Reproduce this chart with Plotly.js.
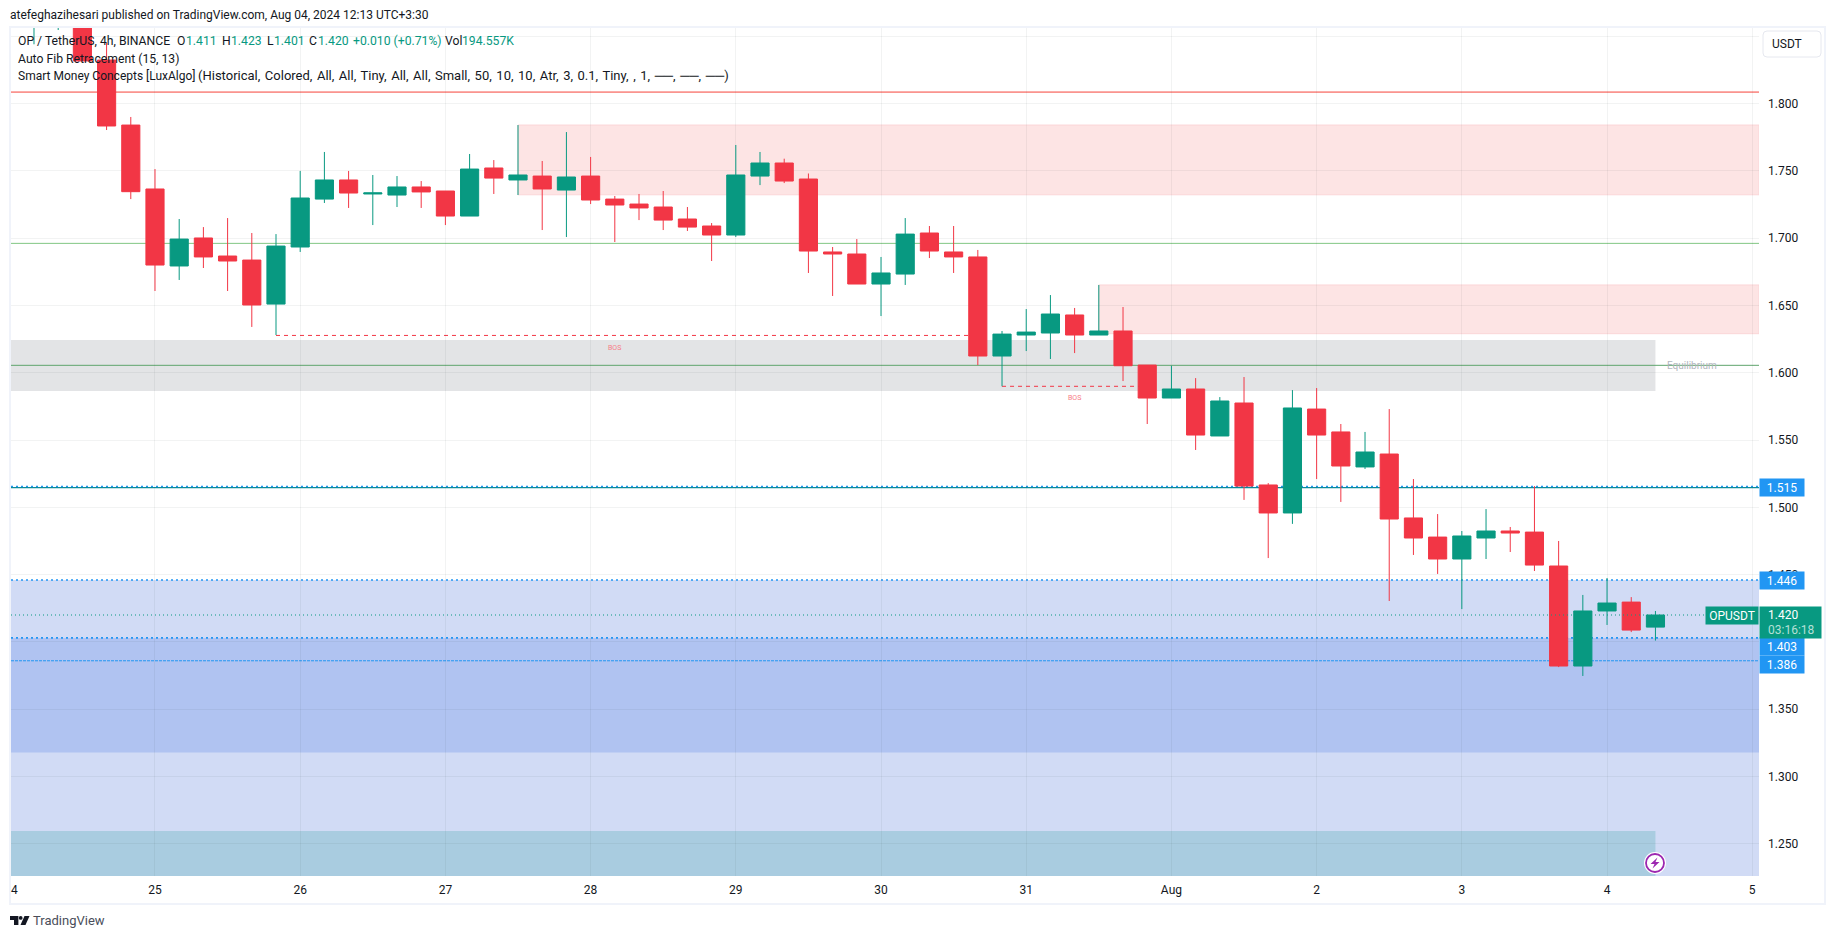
<!DOCTYPE html>
<html><head><meta charset="utf-8">
<script src="https://cdn.plot.ly/plotly-3.0.1.min.js"></script>
<style>html,body{margin:0;padding:0;background:#fff}#c{width:1835px;height:939px}</style>
</head><body><div id="c"></div>
<script>
// ---- candle data (4h) ----
const dates = ["2024-07-24 00:00","2024-07-24 04:00","2024-07-24 08:00","2024-07-24 12:00","2024-07-24 16:00","2024-07-24 20:00",
"2024-07-25 00:00","2024-07-25 04:00","2024-07-25 08:00","2024-07-25 12:00","2024-07-25 16:00","2024-07-25 20:00",
"2024-07-26 00:00","2024-07-26 04:00","2024-07-26 08:00","2024-07-26 12:00","2024-07-26 16:00","2024-07-26 20:00",
"2024-07-27 00:00","2024-07-27 04:00","2024-07-27 08:00","2024-07-27 12:00","2024-07-27 16:00","2024-07-27 20:00",
"2024-07-28 00:00","2024-07-28 04:00","2024-07-28 08:00","2024-07-28 12:00","2024-07-28 16:00","2024-07-28 20:00",
"2024-07-29 00:00","2024-07-29 04:00","2024-07-29 08:00","2024-07-29 12:00","2024-07-29 16:00","2024-07-29 20:00",
"2024-07-30 00:00","2024-07-30 04:00","2024-07-30 08:00","2024-07-30 12:00","2024-07-30 16:00","2024-07-30 20:00",
"2024-07-31 00:00","2024-07-31 04:00","2024-07-31 08:00","2024-07-31 12:00","2024-07-31 16:00","2024-07-31 20:00",
"2024-08-01 00:00","2024-08-01 04:00","2024-08-01 08:00","2024-08-01 12:00","2024-08-01 16:00","2024-08-01 20:00",
"2024-08-02 00:00","2024-08-02 04:00","2024-08-02 08:00","2024-08-02 12:00","2024-08-02 16:00","2024-08-02 20:00",
"2024-08-03 00:00","2024-08-03 04:00","2024-08-03 08:00","2024-08-03 12:00","2024-08-03 16:00","2024-08-03 20:00",
"2024-08-04 00:00","2024-08-04 04:00","2024-08-04 08:00"];
const opens = [1.95,1.875,1.88,1.885,1.8323,1.784,
1.7365,1.6793,1.7001,1.6867,1.6837,1.651,
1.6934,1.729,1.7432,1.7328,1.732,1.738,
1.735,1.7164,1.7521,1.7432,1.7461,1.7357,
1.7461,1.729,1.7253,1.7231,1.7142,1.709,
1.7023,1.7461,1.7558,1.7439,1.6897,1.6882,
1.6659,1.6733,1.7038,1.6897,1.686,1.6124,
1.628,1.6295,1.6429,1.628,1.631,1.6057,
1.5812,1.5879,1.553,1.5775,1.5166,1.4958,
1.573,1.556,1.53,1.5396,1.4921,1.4779,
1.4616,1.4772,1.4824,1.4816,1.4564,1.3821,
1.423,1.4296,1.411];
const highs = [1.96,1.94,1.92,1.9,1.845,1.79,
1.7513,1.7142,1.7082,1.7149,1.7038,1.703,
1.7499,1.764,1.7499,1.7469,1.7461,1.7424,
1.735,1.7625,1.758,1.784,1.7573,1.7788,
1.7603,1.7313,1.7328,1.735,1.7231,1.7112,
1.7692,1.764,1.759,1.748,1.6934,1.6993,
1.686,1.7149,1.709,1.709,1.6912,1.631,
1.6473,1.6577,1.6481,1.6652,1.6488,1.6057,
1.6052,1.596,1.5819,1.5968,1.518,1.5871,
1.5886,1.5619,1.556,1.573,1.521,1.495,
1.4824,1.4987,1.4854,1.5158,1.475,1.4349,
1.4475,1.4333,1.423];
const lows = [1.836,1.844,1.8546,1.8316,1.7803,1.729,
1.6607,1.6689,1.6778,1.6607,1.634,1.628,
1.6897,1.7261,1.7224,1.7097,1.7231,1.7224,
1.7097,1.7164,1.7328,1.732,1.706,1.7008,
1.7253,1.6971,1.7134,1.706,1.7053,1.683,
1.7008,1.7394,1.7409,1.6741,1.657,1.6659,
1.6421,1.6652,1.6852,1.6741,1.6057,1.5899,
1.6161,1.6102,1.6146,1.628,1.5938,1.5619,
1.5812,1.5426,1.553,1.5055,1.4623,1.4877,
1.521,1.504,1.5285,1.4304,1.4646,1.4505,
1.4244,1.4616,1.4668,1.4527,1.3813,1.3747,
1.4126,1.4073,1.401];
const closes = [1.9,1.93,1.91,1.8316,1.7833,1.7345,
1.68,1.6993,1.686,1.683,1.6503,1.6941,
1.7298,1.7432,1.7335,1.7336,1.738,1.7343,
1.7164,1.7513,1.7446,1.7469,1.7365,1.7454,
1.7283,1.7246,1.7224,1.7134,1.7082,1.7023,
1.7469,1.7558,1.7424,1.6904,1.6882,1.6659,
1.6741,1.703,1.6904,1.686,1.6124,1.6287,
1.6302,1.6436,1.628,1.631,1.6052,1.5812,
1.5879,1.5537,1.579,1.5158,1.4958,1.5738,
1.5537,1.5307,1.5411,1.4913,1.4772,1.4616,
1.4787,1.4824,1.4809,1.4571,1.3821,1.423,
1.4289,1.4088,1.42];
// ---- axes ----
const dayTicks = ["2024-07-25","2024-07-26","2024-07-27","2024-07-28","2024-07-29","2024-07-30","2024-07-31","2024-08-01","2024-08-02","2024-08-03","2024-08-04","2024-08-05"];
const dayLabels = ["25","26","27","28","29","30","31","Aug","2","3","4","5"];
const xStart = "2024-07-24 00:12", xEnd = "2024-08-05 01:07", yMin = 1.2261, yMax = 1.8561;
// ---- levels & zones ----
const redLevel = 1.8085, greenLevelA = 1.6961, greenLevelB = 1.6055, tealLevel = 1.5146;
const fibLevels = [1.5155, 1.446, 1.403];
const fibThin = 1.386, lastPrice = 1.42;
const supplyA = {x0:"2024-07-27 12:00", top:1.784, bottom:1.7322};
const supplyB = {x0:"2024-07-31 12:00", top:1.6652, bottom:1.629};
const equilibrium = {x1:"2024-08-04 08:00", top:1.6243, bottom:1.5864};
const fibLight = {top:1.446};
const fibDark = {top:1.403, bottom:1.3179};
const discount = {x1:"2024-08-04 08:00", top:1.2596};
const bos = [
 {x0:"2024-07-25 20:00", x1:"2024-07-30 16:00", y:1.6277, lx:"2024-07-28 04:00", ly:1.6187},
 {x0:"2024-07-30 20:00", x1:"2024-07-31 20:00", y:1.5899, lx:"2024-07-31 08:00", ly:1.581}
];
const tags = [{p:1.515,t:"1.515",dy:0},{p:1.446,t:"1.446",dy:0},{p:1.403,t:"1.403",dy:9},{p:1.386,t:"1.386",dy:3.5}];

// ---- layout geometry ----
const L=11,R=1759,T=28,B=876;
const px=x=>(x-L)/(R-L), py=y=>(B-y)/(B-T);
const path=(segs)=>segs.map(s=>typeof s==='string'?s:(px(s[0])+','+py(s[1]))).join(' ');
const FONT='Roboto, sans-serif', INK='#131722', UP='#089981', DOWN='#f23645', BLUE='#2196f3';

const hband=(y0,y1,x0,x1,fill,line)=>({type:'rect',layer:'below',xref:'x',yref:'y',
  x0:x0||xStart,x1:x1||xEnd,y0,y1,fillcolor:fill,line:line||{width:0}});
const hline=(y,color,width,dash,layer)=>({type:'line',layer:layer||'below',xref:'x',yref:'y',x0:xStart,x1:xEnd,y0:y,y1:y,line:{color,width,dash:dash||'solid'}});

const shapes=[
 hband(yMin,fibLight.top,null,null,'#d1dbf5'),
 hband(fibDark.bottom,fibDark.top,null,null,'#b0c3f1'),
 hband(yMin,discount.top,null,discount.x1,'#a9cce0'),
 hband(equilibrium.bottom,equilibrium.top,null,equilibrium.x1,'#e3e4e6'),
 hband(supplyA.bottom,supplyA.top,supplyA.x0,null,'#fde4e4',{color:'#fbd6d8',width:1}),
 hband(supplyB.bottom,supplyB.top,supplyB.x0,null,'#fde4e4',{color:'#fbd6d8',width:1}),
 hline(redLevel,'#f6433a',1),
 hline(greenLevelA,'#81c784',1),
 hline(greenLevelB,'#5fa56c',1),
 ...fibLevels.map(v=>hline(v,BLUE,1.6,'2px,3px')),
 hline(tealLevel,'#0b8a9a',1.2),
 hline(fibThin,BLUE,1,'3px,1px'),
 ...bos.map(b=>({type:'line',layer:'below',xref:'x',yref:'y',x0:b.x0,x1:b.x1,y0:b.y,y1:b.y,line:{color:DOWN,width:1,dash:'4px,4px'}})),
 hline(lastPrice,UP,1,'1px,3px','above'),
 // chart frame
 {type:'rect',xref:'paper',yref:'paper',layer:'above',x0:px(10),x1:px(1825),y0:py(27),y1:py(904),line:{color:'#f0f3fa',width:2}},
 // currency button
 {type:'path',xref:'paper',yref:'paper',layer:'above',fillcolor:'#fff',line:{color:'#e6e8ef',width:1},
  path:path(['M',[1767,31],'L',[1817,31],'Q',[1821,31],[1821,35],'L',[1821,53],'Q',[1821,57],[1817,57],'L',[1767,57],'Q',[1763,57],[1763,53],'L',[1763,35],'Q',[1763,31],[1767,31],'Z'])},
 // bolt badge
 {type:'circle',xref:'paper',yref:'paper',layer:'above',x0:px(1644),x1:px(1666),y0:py(852),y1:py(874),fillcolor:'#fff',line:{width:0}},
 {type:'circle',xref:'paper',yref:'paper',layer:'above',x0:px(1646),x1:px(1664),y0:py(854),y1:py(872),fillcolor:'#fff',line:{color:'#9c27b0',width:1.8}},
 {type:'path',xref:'paper',yref:'paper',layer:'above',fillcolor:'#9c27b0',line:{width:0},
  path:path(['M',[1657.5,857.5],'L',[1650.5,864],'L',[1654.5,864],'L',[1652.5,868.5],'L',[1659.5,862],'L',[1655.5,862],'Z'])},
 // logo
 {type:'path',xref:'paper',yref:'paper',layer:'above',fillcolor:INK,line:{width:0},
  path:path(['M',[10,916],'L',[18.4,916],'L',[18.4,925],'L',[14,925],'L',[14,920],'L',[10,920],'Z'])},
 {type:'circle',xref:'paper',yref:'paper',layer:'above',x0:px(18.8),x1:px(22.6),y0:py(916),y1:py(919.8),fillcolor:INK,line:{width:0}},
 {type:'path',xref:'paper',yref:'paper',layer:'above',fillcolor:INK,line:{width:0},
  path:path(['M',[24.5,916],'L',[29.5,916],'L',[25.5,925],'L',[20.5,925],'Z'])}
];

const note=(text,x,y,opt)=>Object.assign({xref:'paper',yref:'paper',x:px(x-2),y:py(y),text,showarrow:false,xanchor:'left',yanchor:'middle',
  font:{family:FONT,size:12.2,color:INK}},opt||{});
const gf={family:FONT,size:12.2,color:UP};
const legendY=41;
const hair=s=>s.replace(/, /g,',\u200A ');
const annotations=[
 note('atefeghazihesari published on TradingView.com, Aug 04, 2024 12:13 UTC+3:30',10,15,{font:{family:FONT,size:12,color:INK}}),
 note('OP / TetherUS, 4h, BINANCE',18,legendY),
 note('O',177,legendY),note('1.411',186,legendY,{font:gf}),
 note('H',222,legendY),note('1.423',231,legendY,{font:gf}),
 note('L',267,legendY),note('1.401',274,legendY,{font:gf}),
 note('C',309,legendY),note('1.420',318,legendY,{font:gf}),
 note('+0.010 (+0.71%)',353,legendY,{font:gf}),
 note('Vol',445,legendY),note('194.557K',462,legendY,{font:gf}),
 note('Auto Fib Retracement (15, 13)',18,59),
 note('Smart Money Concepts [LuxAlgo]',18,76,{font:{family:FONT,size:12,color:INK}}),
 note(hair('(Historical, Colored, All, All, Tiny, All, All, Small, 50, 10, 10, Atr, 3, 0.1, Tiny, , 1, ──, ──, ──)'),198,76,{font:{family:FONT,size:13,color:INK}}),
 note('USDT',1772,44,{font:{family:FONT,size:12,color:INK}}),
 note('4',11,890,{font:{family:FONT,size:12,color:INK}}),
 note('TradingView',33,921,{font:{family:FONT,size:13,color:'#4a4e5a'}}),
 {xref:'x',yref:'y',x:"2024-08-04 14:00",y:greenLevelB,text:'Equilibrium',showarrow:false,font:{family:FONT,size:10,color:'#b2b5be'}},
 ...bos.map(b=>({xref:'x',yref:'y',x:b.lx,y:b.ly,text:'BOS',showarrow:false,font:{family:FONT,size:7,color:'#f77c86'}})),
 ...tags.map(t=>({xref:'paper',yref:'y',x:1,y:t.p,yshift:-t.dy,xanchor:'left',yanchor:'middle',text:t.t,showarrow:false,
   width:44,height:17,bgcolor:BLUE,borderpad:0,align:'center',font:{family:FONT,size:12,color:'#fff'}})),
 {xref:'paper',yref:'y',x:1,y:lastPrice,yshift:-7,xanchor:'left',yanchor:'middle',showarrow:false,
   text:' ',width:61,height:31,bgcolor:UP,borderpad:0},
 {xref:'paper',yref:'y',x:1,xshift:7,y:lastPrice,yshift:0,xanchor:'left',yanchor:'middle',showarrow:false,text:'1.420',font:{family:FONT,size:12,color:'#fff'}},
 {xref:'paper',yref:'y',x:1,xshift:7,y:lastPrice,yshift:-14.5,xanchor:'left',yanchor:'middle',showarrow:false,text:'03:16:18',font:{family:FONT,size:12,color:'#b5e0d7'}},
 {xref:'paper',yref:'y',x:1,y:lastPrice,yshift:-0.5,xanchor:'right',yanchor:'middle',showarrow:false,
   text:'OPUSDT',width:52,height:17,bgcolor:UP,borderpad:0,align:'center',font:{family:FONT,size:12,color:'#fff'}}
];

const trace={type:'candlestick',x:dates,open:opens,high:highs,low:lows,close:closes,
 increasing:{line:{color:UP,width:1},fillcolor:UP},
 decreasing:{line:{color:DOWN,width:1},fillcolor:DOWN},
 whiskerwidth:0,hoverinfo:'none',showlegend:false};

const layout={width:1835,height:939,paper_bgcolor:'#fff',plot_bgcolor:'#fff',showlegend:false,
 margin:{l:L,r:1835-R,t:T,b:939-B,pad:0},boxmode:'overlay',boxgap:0.25,boxgroupgap:0,font:{family:FONT,size:12,color:INK},
 xaxis:{type:'date',range:[xStart,xEnd],tickmode:'array',tickvals:dayTicks,ticktext:dayLabels,
  showgrid:true,gridcolor:'rgba(42,46,57,0.06)',gridwidth:1,zeroline:false,showline:false,ticks:'',rangeslider:{visible:false},
  tickangle:0,ticklabelstandoff:5,tickfont:{family:FONT,size:12,color:INK},fixedrange:true},
 yaxis:{side:'right',range:[yMin,yMax],tick0:1.25,dtick:0.05,tickformat:'.3f',showgrid:true,gridcolor:'rgba(42,46,57,0.06)',gridwidth:1,
  zeroline:false,showline:false,ticks:'',ticklabelstandoff:8,tickfont:{family:FONT,size:12,color:INK},fixedrange:true},
 shapes,annotations};
Plotly.newPlot('c',[trace],layout,{displayModeBar:false,staticPlot:true});
</script></body></html>
